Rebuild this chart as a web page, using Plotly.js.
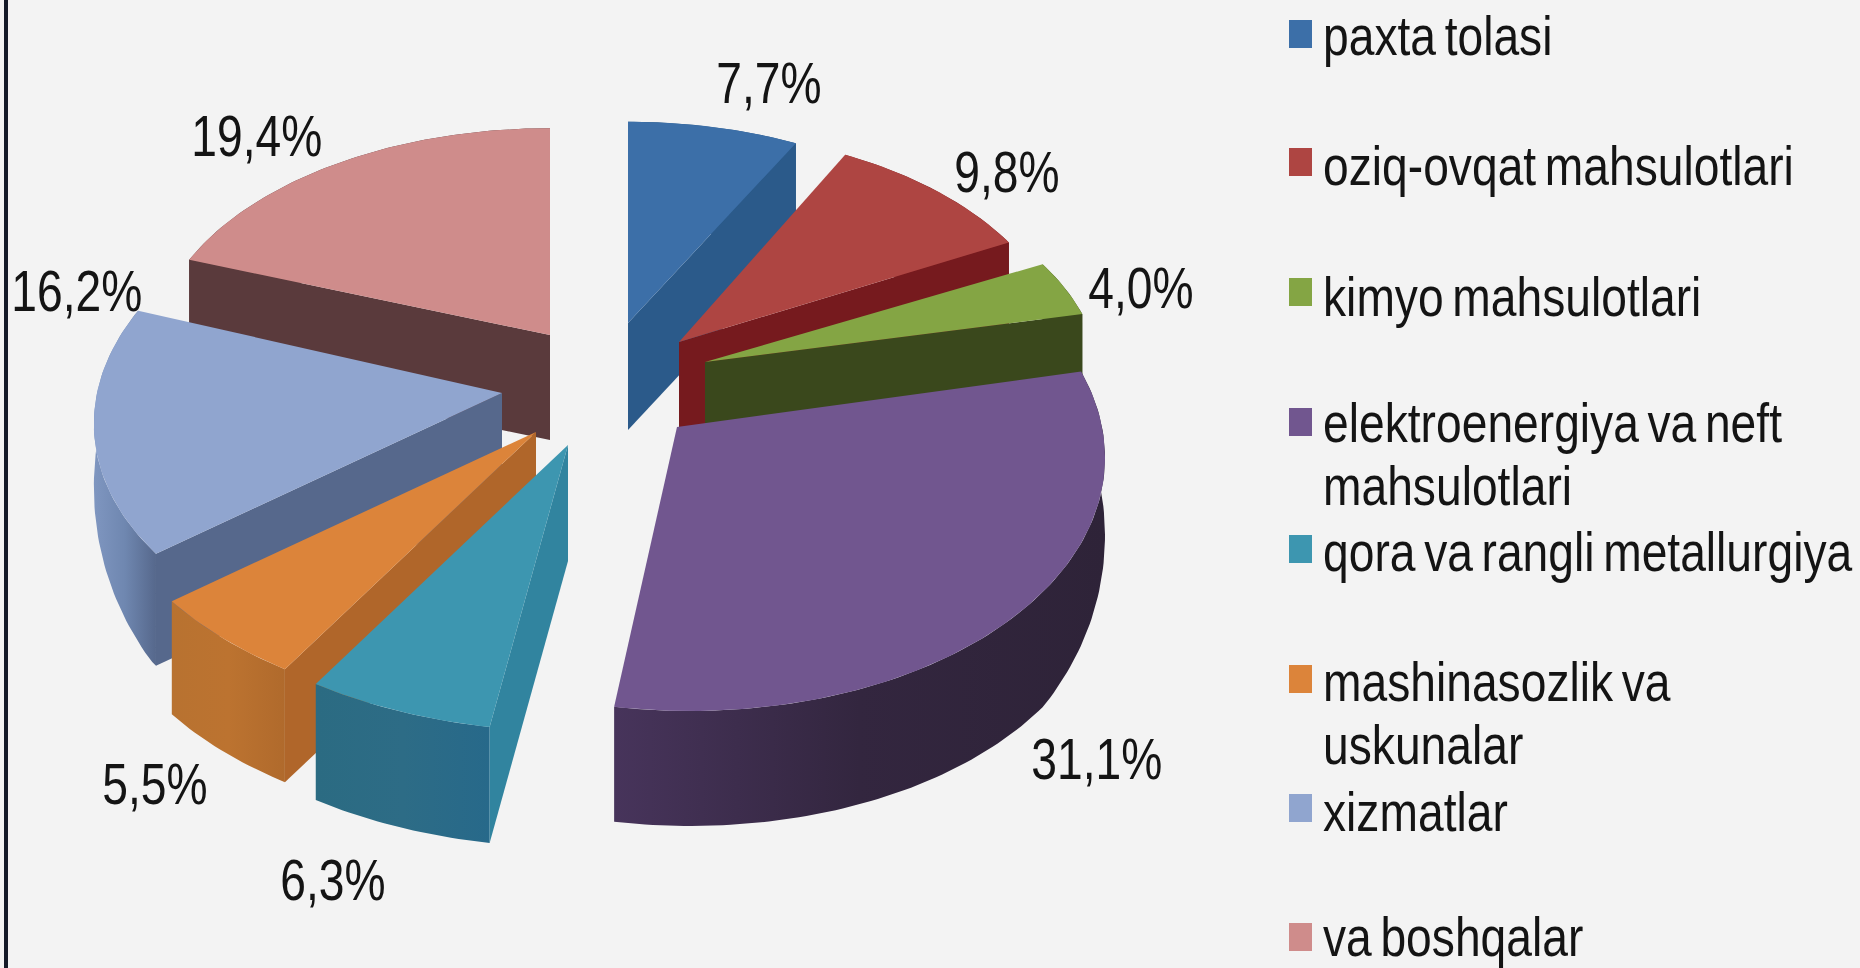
<!DOCTYPE html>
<html>
<head>
<meta charset="utf-8">
<script src="https://cdn.plot.ly/plotly-3.0.1.min.js"></script>
<style>html,body{margin:0;padding:0;background:#f3f3f3;overflow:hidden}</style>
</head>
<body>
<div id="chart" style="width:1860px;height:968px"></div>
<script>
// ---- chart data ----
const categories = ["paxta tolasi","oziq-ovqat mahsulotlari","kimyo mahsulotlari","elektroenergiya va neft mahsulotlari","qora va rangli metallurgiya","mashinasozlik va uskunalar","xizmatlar","va boshqalar"];
const values = [7.7, 9.8, 4.0, 31.1, 6.3, 5.5, 16.2, 19.4];

// ---- colours ----
const topColors = ["#3c6fa8","#ae4542","#84a544","#71568f","#3d96b0","#dc843a","#90a5cf","#cf8c8b"];
const cutWallColors = ["#2b5a8a","#761a1e","#3a481c",null,"#31849f","#b0662a","#56688c","#5a3a3c"];
const cutWallEdge = ["end","end","end",null,"start","start","start","start"];
const outerGradients = [
  ["#2b5a8a","#2b5a8a"],["#761a1e","#761a1e"],["#3a481c","#3a481c"],
  ["#47345b","#33263f","#2e2338"],["#2b6b82","#2d6c86","#27698a"],
  ["#b87230","#bc7330","#b06a2c"],["#7f96c0","#6f87b0","#56688c"],["#5a3a3c","#5a3a3c"]
];

// ---- projection layout of each exploded slice (pixels) ----
const apexX = [628,679,705,677,568,536,502,550];
const apexY = [323,342,362,427,445,432,393,335];
const radiusX = [389,385,394,425,440,438,405,396];
const radiusY = [219,228,224,259,261,259,246,225];
const thickness = [107,105,105,115,116,113,112,105];
const sideDepth = [1,1,1,0.6,1,1,0.45,1];
const skewX = [0,0,0,13,0,0,-15,0];
const perspective = 0.088;
const drawOrder = [0,7,1,2,6,5,4,3];

// ---- text layout ----
const labelX = [769,1007,1141,1097,333,155,77,257];
const labelY = [83,172,288,759,880,784,291,136];
const swatchLeft = 1289, swatchRight = 1312, swatchHalfHeight = 14;
const swatchY = [34,162,292,422,549,679,808,937];
const legendTextX = 1323;
const legendLines = [
  [["paxta tolasi",36]],
  [["oziq-ovqat mahsulotlari",166]],
  [["kimyo mahsulotlari",297]],
  [["elektroenergiya va neft",423],["mahsulotlari",486]],
  [["qora va rangli metallurgiya",552]],
  [["mashinasozlik va",682],["uskunalar",745]],
  [["xizmatlar",812]],
  [["va boshqalar",937]]
];
const FONT = '"Liberation Sans",Arial,sans-serif';
const labelCondense = 0.81, legendCondense = 0.84;

// ---- geometry from values ----
const total = values.reduce((a,b)=>a+b,0);
let acc = 0;
const startAngle = [], endAngle = [];
values.forEach(v=>{ startAngle.push(acc/total*2*Math.PI); acc+=v; endAngle.push(acc/total*2*Math.PI); });

function rim(i,t){
  const u=Math.sin(t), w=Math.cos(t), p=1/(1+perspective*w);
  return [apexX[i]+radiusX[i]*u*p-skewX[i]*w, apexY[i]-radiusY[i]*w*p];
}
function depthAt(i,t){
  const w=Math.cos(t), f=sideDepth[i];
  const k=w>=0?f:f+(1-f)*Math.min(1,-w/0.6);
  return thickness[i]*k;
}
function arcAngles(i){
  const out=[], n=Math.max(8,Math.round((endAngle[i]-startAngle[i])*60));
  for(let k=0;k<=n;k++) out.push(startAngle[i]+(endAngle[i]-startAngle[i])*k/n);
  return out;
}
function poly(pts,color,name,grad){
  const t={type:'scatter',mode:'lines',x:pts.map(p=>p[0]),y:pts.map(p=>p[1]),fill:'toself',
    line:{width:0,color:color},fillcolor:color,showlegend:false,hoverinfo:name?'text':'skip',text:name||undefined};
  if(grad){
    t.fillgradient={type:'horizontal',colorscale:grad.map((c,j)=>[j/(grad.length-1),c])};
    delete t.fillcolor;
  }
  return t;
}

const traces=[];
drawOrder.forEach(i=>{
  const ang=arcAngles(i), a=ang.map(t=>rim(i,t)), d=thickness[i];
  const shifted=ang.map(t=>{const r=rim(i,t);return [r[0],r[1]+depthAt(i,t)];}).reverse();
  traces.push(poly(a.concat(shifted),outerGradients[i][0],null,outerGradients[i]));
  if(cutWallEdge[i]){
    const t=cutWallEdge[i]==='start'?startAngle[i]:endAngle[i];
    const r=rim(i,t);
    traces.push(poly([[apexX[i],apexY[i]],r,[r[0],r[1]+d],[apexX[i],apexY[i]+d]],cutWallColors[i]));
  }
  traces.push(poly([[apexX[i],apexY[i]]].concat(a),topColors[i],categories[i]+': '+values[i].toFixed(1).replace('.',',')+'%'));
});

const annotations=[];
values.forEach((v,i)=>annotations.push({x:labelX[i],y:labelY[i],xref:'x',yref:'y',showarrow:false,
  xanchor:'center',yanchor:'middle',text:v.toFixed(1).replace('.',',')+'%',
  font:{family:FONT,size:57,color:'#141414'}}));
legendLines.forEach(lines=>lines.forEach(l=>annotations.push({x:legendTextX,y:l[1],xref:'x',yref:'y',showarrow:false,
  xanchor:'left',yanchor:'middle',text:l[0],font:{family:FONT,size:55,color:'#141414'}})));

const shapes=[{type:'line',xref:'x',yref:'y',x0:6,x1:6,y0:0,y1:968,line:{color:'#141a28',width:4}}];
swatchY.forEach((y,i)=>shapes.push({type:'rect',xref:'x',yref:'y',x0:swatchLeft,x1:swatchRight,
  y0:y-swatchHalfHeight,y1:y+swatchHalfHeight,fillcolor:topColors[i],line:{width:0}}));

const layout={
  width:1860,height:968,margin:{l:0,r:0,t:0,b:0},
  paper_bgcolor:'#f3f3f3',plot_bgcolor:'#f3f3f3',showlegend:false,
  xaxis:{range:[0,1860],visible:false,fixedrange:true},
  yaxis:{range:[968,0],visible:false,fixedrange:true},
  annotations:annotations,shapes:shapes
};
Plotly.newPlot('chart',traces,layout,{displayModeBar:false,responsive:false}).then(gd=>{
  // the reference's type is condensed: narrow each real text around its anchor
  const texts=gd.querySelectorAll('.annotation-text');
  texts.forEach((el,i)=>{
    const isLabel=i<values.length;
    if(!isLabel) el.style.wordSpacing='-5px';
    const b=el.getBBox();
    const s=isLabel?labelCondense:legendCondense;
    const ox=isLabel?b.x+b.width/2:b.x;
    const gx=el.parentNode.getCTM?el.parentNode.getCTM().e:0;
    const target=isLabel?ox:legendTextX-gx;
    el.setAttribute('transform','translate('+target+',0) scale('+s+',1) translate('+(-ox)+',0)');
  });
});
</script>
</body>
</html>
